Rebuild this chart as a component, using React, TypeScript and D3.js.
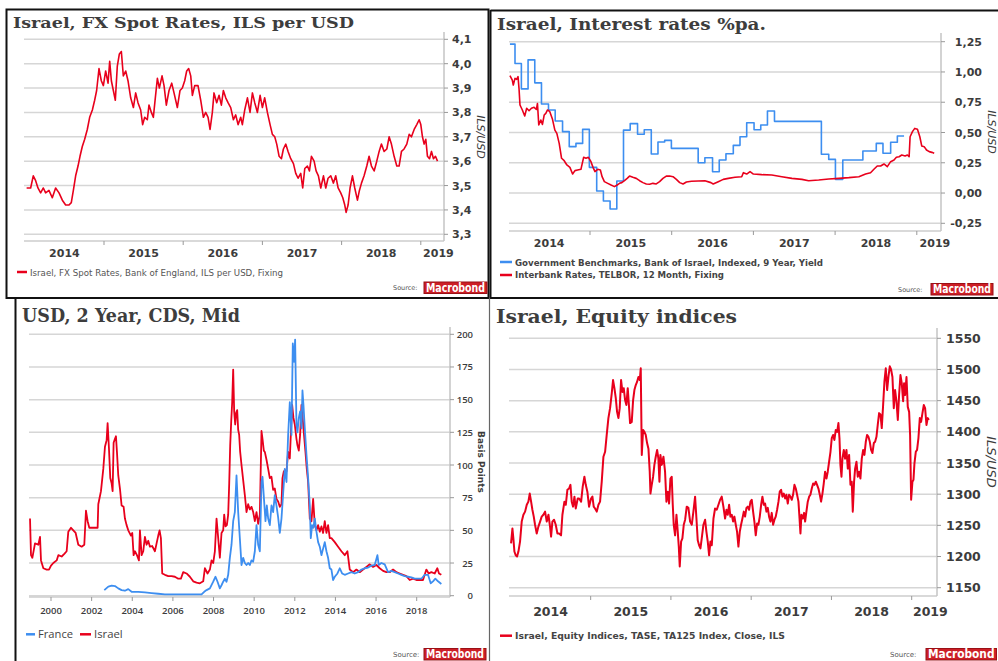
import React from "react";
import * as d3 from "d3";

type P = [number, number];

// ---------------- DATA ----------------
// Panel 1: Israel FX spot, ILS per USD  [years since 2014-01-01, value]
const fxSpot: P[] = [[0.023,3.49],[0.074,3.49],[0.107,3.54],[0.137,3.52],[0.166,3.49],[0.200,3.47],[0.234,3.49],[0.263,3.47],[0.305,3.48],[0.347,3.45],[0.389,3.49],[0.432,3.47],[0.474,3.44],[0.516,3.42],[0.558,3.42],[0.587,3.43],[0.613,3.48],[0.642,3.54],[0.672,3.58],[0.697,3.62],[0.726,3.66],[0.756,3.69],[0.789,3.73],[0.819,3.78],[0.853,3.81],[0.882,3.85],[0.907,3.89],[0.937,3.98],[0.966,3.93],[0.992,3.91],[1.021,3.97],[1.051,3.92],[1.072,4.01],[1.093,3.93],[1.118,3.89],[1.143,3.85],[1.168,3.99],[1.194,4.04],[1.219,4.05],[1.244,3.95],[1.274,3.97],[1.303,3.93],[1.337,3.86],[1.371,3.82],[1.400,3.88],[1.429,3.84],[1.463,3.81],[1.488,3.75],[1.514,3.78],[1.547,3.77],[1.568,3.83],[1.598,3.80],[1.623,3.78],[1.648,3.86],[1.674,3.94],[1.699,3.90],[1.733,3.95],[1.758,3.91],[1.787,3.83],[1.821,3.89],[1.855,3.92],[1.884,3.88],[1.926,3.82],[1.960,3.89],[1.989,3.90],[2.019,3.93],[2.044,3.97],[2.069,3.98],[2.095,3.95],[2.116,3.87],[2.145,3.91],[2.187,3.91],[2.221,3.85],[2.255,3.78],[2.284,3.80],[2.314,3.78],[2.339,3.73],[2.368,3.80],[2.389,3.88],[2.423,3.84],[2.453,3.87],[2.482,3.83],[2.507,3.89],[2.537,3.86],[2.566,3.84],[2.600,3.82],[2.634,3.77],[2.663,3.79],[2.693,3.75],[2.726,3.78],[2.747,3.75],[2.777,3.81],[2.811,3.86],[2.844,3.80],[2.874,3.88],[2.903,3.84],[2.937,3.80],[2.971,3.87],[3.000,3.82],[3.029,3.86],[3.063,3.80],[3.097,3.75],[3.126,3.71],[3.156,3.70],[3.181,3.67],[3.211,3.62],[3.240,3.61],[3.265,3.65],[3.295,3.67],[3.324,3.64],[3.358,3.61],[3.392,3.59],[3.421,3.55],[3.451,3.53],[3.484,3.55],[3.509,3.49],[3.535,3.57],[3.568,3.58],[3.594,3.56],[3.619,3.62],[3.653,3.60],[3.678,3.56],[3.707,3.54],[3.737,3.49],[3.771,3.54],[3.800,3.49],[3.829,3.53],[3.863,3.54],[3.897,3.51],[3.926,3.54],[3.956,3.49],[3.989,3.47],[4.015,3.45],[4.040,3.42],[4.057,3.39],[4.082,3.42],[4.107,3.49],[4.137,3.54],[4.166,3.49],[4.200,3.44],[4.225,3.48],[4.251,3.51],[4.284,3.54],[4.318,3.58],[4.347,3.62],[4.377,3.58],[4.411,3.56],[4.444,3.60],[4.474,3.64],[4.503,3.67],[4.537,3.64],[4.571,3.65],[4.600,3.70],[4.629,3.67],[4.663,3.62],[4.697,3.58],[4.726,3.58],[4.756,3.64],[4.789,3.65],[4.823,3.67],[4.853,3.71],[4.882,3.70],[4.916,3.73],[4.949,3.75],[4.979,3.77],[5.000,3.75],[5.021,3.70],[5.042,3.67],[5.063,3.69],[5.084,3.62],[5.110,3.61],[5.135,3.64],[5.160,3.61],[5.185,3.62],[5.211,3.60]];

// Panel 2: Government benchmark 9Y indexed (step) and TELBOR 12M  [years since 2014-01-01, %]
const govBench: P[] = [[0.020,1.23],[0.082,1.07],[0.160,0.86],[0.242,1.10],[0.324,0.91],[0.406,0.735],[0.492,0.686],[0.574,0.595],[0.664,0.507],[0.746,0.383],[0.828,0.41],[0.910,0.526],[0.992,0.212],[1.082,0.017],[1.164,-0.066],[1.246,-0.132],[1.328,0.10],[1.410,0.52],[1.492,0.573],[1.582,0.485],[1.664,0.523],[1.750,0.322],[1.832,0.421],[1.914,0.435],[1.996,0.369],[2.324,0.25],[2.406,0.292],[2.500,0.176],[2.582,0.273],[2.664,0.325],[2.754,0.394],[2.836,0.465],[2.918,0.581],[3.008,0.523],[3.090,0.562],[3.172,0.677],[3.258,0.592],[3.832,0.32],[3.922,0.278],[4.004,0.113],[4.094,0.273],[4.340,0.347],[4.504,0.41],[4.586,0.328],[4.680,0.419],[4.762,0.471],[4.844,0.471]];
const telbor: P[] = [[0.020,0.969],[0.049,0.933],[0.061,0.892],[0.082,0.947],[0.102,0.939],[0.119,0.961],[0.131,0.865],[0.143,0.727],[0.172,0.686],[0.201,0.636],[0.225,0.70],[0.254,0.68],[0.283,0.70],[0.316,0.708],[0.344,0.69],[0.357,0.74],[0.373,0.562],[0.398,0.603],[0.418,0.567],[0.439,0.644],[0.459,0.658],[0.480,0.686],[0.508,0.672],[0.541,0.609],[0.570,0.52],[0.594,0.493],[0.623,0.41],[0.652,0.287],[0.684,0.267],[0.717,0.232],[0.754,0.212],[0.787,0.157],[0.816,0.185],[0.848,0.19],[0.889,0.196],[0.922,0.295],[0.951,0.287],[0.980,0.295],[1.012,0.259],[1.037,0.212],[1.061,0.177],[1.094,0.196],[1.127,0.19],[1.148,0.135],[1.176,0.094],[1.217,0.08],[1.258,0.066],[1.299,0.053],[1.332,0.066],[1.361,0.08],[1.389,0.086],[1.422,0.102],[1.455,0.121],[1.484,0.14],[1.525,0.13],[1.566,0.121],[1.607,0.102],[1.648,0.086],[1.689,0.075],[1.730,0.072],[1.770,0.08],[1.811,0.075],[1.852,0.094],[1.893,0.121],[1.934,0.14],[1.975,0.14],[2.016,0.135],[2.057,0.113],[2.098,0.086],[2.139,0.075],[2.180,0.091],[2.242,0.097],[2.324,0.10],[2.406,0.102],[2.480,0.086],[2.508,0.075],[2.570,0.094],[2.631,0.113],[2.693,0.121],[2.775,0.13],[2.857,0.135],[2.877,0.168],[2.918,0.157],[2.959,0.177],[3.000,0.157],[3.102,0.152],[3.225,0.149],[3.348,0.135],[3.471,0.121],[3.594,0.113],[3.676,0.102],[3.799,0.108],[3.922,0.116],[4.045,0.121],[4.168,0.127],[4.291,0.135],[4.373,0.157],[4.434,0.168],[4.475,0.196],[4.516,0.223],[4.557,0.223],[4.598,0.24],[4.639,0.218],[4.680,0.259],[4.721,0.273],[4.750,0.295],[4.783,0.30],[4.816,0.314],[4.857,0.306],[4.885,0.314],[4.906,0.30],[4.918,0.465],[4.947,0.507],[4.975,0.534],[5.008,0.526],[5.037,0.465],[5.061,0.388],[5.090,0.383],[5.119,0.355],[5.152,0.342],[5.184,0.336],[5.213,0.328]];

// Panel 3: USD 2Y CDS mid, basis points  [years since 2000-01-01, bp]
const cdsIsrael: P[] = [[-1.033,59],[-0.984,31],[-0.918,29],[-0.787,40],[-0.623,39],[-0.541,45],[-0.492,27],[-0.377,21],[-0.213,20],[-0.098,20],[0,23],[0.115,25],[0.279,27],[0.361,31],[0.525,30],[0.656,32],[0.770,34],[0.852,49],[0.984,52],[1.098,50],[1.213,48],[1.344,39],[1.508,37.5],[1.639,39],[1.721,65],[1.803,57],[1.885,52],[2.000,52],[2.164,52],[2.295,52],[2.328,70],[2.459,80],[2.574,97],[2.656,114],[2.738,119],[2.787,132],[2.852,113],[2.918,90],[2.984,86],[3.033,80],[3.082,117],[3.148,120],[3.197,122],[3.246,110],[3.311,92],[3.393,82],[3.475,69],[3.574,68],[3.639,59],[3.721,54],[3.803,50],[3.934,46],[4.000,48],[4.066,31],[4.131,34],[4.230,31],[4.328,27],[4.377,50],[4.459,31],[4.541,34],[4.623,45],[4.705,39],[4.787,42],[4.869,37.5],[4.984,38],[5.115,34],[5.197,40],[5.279,46],[5.344,50],[5.410,44],[5.475,17],[5.607,16],[5.770,15],[5.934,15],[6.098,14.5],[6.262,13],[6.393,13],[6.508,18],[6.672,17],[6.836,14.5],[7.000,11],[7.164,10],[7.328,9.5],[7.492,11],[7.574,21],[7.705,17],[7.820,20],[7.902,27],[7.984,25],[8.066,34],[8.148,59],[8.230,44],[8.311,29],[8.393,48],[8.475,50],[8.525,62],[8.590,53],[8.656,54],[8.721,62],[8.770,85],[8.820,115],[8.869,133],[8.918,148],[8.967,173],[9.016,141],[9.066,131],[9.115,140],[9.164,142],[9.213,127],[9.262,123],[9.311,110],[9.377,100],[9.459,88.5],[9.541,77],[9.623,64],[9.705,70],[9.787,66],[9.869,68],[9.951,64],[10.033,57],[10.115,64],[10.197,55],[10.279,62],[10.361,126],[10.410,120],[10.475,111],[10.525,110],[10.607,104],[10.689,97],[10.770,90],[10.852,91],[10.934,81],[11.016,82],[11.098,74],[11.180,72],[11.262,68],[11.344,70],[11.393,90],[11.459,95],[11.508,96],[11.590,95],[11.672,110],[11.754,105],[11.803,123],[11.869,146],[11.934,136],[12.000,131],[12.082,120],[12.131,115],[12.197,111],[12.262,123],[12.328,146],[12.377,138],[12.443,125],[12.525,110],[12.590,97],[12.656,87],[12.738,59],[12.820,57],[12.902,74],[12.984,54],[13.066,50],[13.148,54],[13.230,49],[13.311,53],[13.393,48],[13.475,57],[13.557,48],[13.639,54],[13.721,44],[13.803,44],[13.967,41],[14.131,37.5],[14.295,34],[14.459,31],[14.590,34],[14.705,20],[14.869,18],[15.033,20],[15.197,18],[15.361,20],[15.525,22],[15.689,24],[15.852,22],[16.016,23.5],[16.180,21],[16.344,19],[16.508,18],[16.672,18],[16.836,20],[17.000,18],[17.164,17],[17.328,16],[17.492,15],[17.656,12],[17.820,13],[17.984,12],[18.148,12],[18.311,12],[18.475,20],[18.590,17],[18.721,18],[18.885,17],[19.016,21],[19.098,17],[19.213,16]];
const cdsFrance: P[] = [[2.623,4.3],[2.820,7],[2.984,7.7],[3.148,7.4],[3.311,5.6],[3.475,4.3],[3.639,3.8],[3.803,5],[3.967,3],[4.295,3],[4.623,2.5],[4.951,2],[5.279,1.5],[5.607,1],[5.934,1],[6.590,1],[7.410,1],[7.541,3],[7.656,4.3],[7.820,5.6],[7.984,10.7],[8.098,14.5],[8.197,10.7],[8.311,5.6],[8.393,8],[8.475,10.7],[8.557,13],[8.639,10.7],[8.721,16],[8.803,29],[8.885,39],[8.967,57],[9.049,64],[9.131,92],[9.213,64],[9.295,44],[9.377,23.5],[9.459,29],[9.541,25],[9.623,23.5],[9.705,25],[9.787,23.5],[9.869,27],[9.951,26],[10.033,34],[10.115,54],[10.197,39],[10.279,34],[10.361,87],[10.410,91],[10.492,72],[10.557,57],[10.623,69],[10.689,59],[10.770,54],[10.852,69],[10.934,64],[11.016,77],[11.098,69],[11.180,60],[11.262,48],[11.344,59],[11.426,78],[11.508,97],[11.590,87],[11.672,123],[11.754,148],[11.836,123],[11.902,193],[11.967,179],[12.016,196],[12.082,131],[12.131,125],[12.197,136],[12.262,141],[12.328,128],[12.377,157],[12.426,146],[12.492,128],[12.574,108],[12.656,90],[12.738,69],[12.787,44],[12.852,54],[12.918,52],[12.984,59],[13.066,49],[13.148,41],[13.230,37.5],[13.311,31],[13.393,36],[13.475,41],[13.557,34],[13.639,29],[13.721,21],[13.803,20],[13.885,12],[13.967,14.5],[14.098,17],[14.213,21],[14.328,17],[14.459,16],[14.623,17],[14.787,18],[14.951,17],[15.115,18],[15.279,20],[15.443,21],[15.607,21.5],[15.770,23],[15.934,23.5],[16.066,31],[16.131,23.5],[16.262,25],[16.426,24],[16.590,18],[16.754,19],[16.918,18],[17.082,17],[17.246,16],[17.410,15],[17.574,14.5],[17.738,14],[17.902,13],[18.066,13],[18.230,13],[18.393,16],[18.557,16],[18.689,9.5],[18.803,11],[18.918,13],[19.049,11],[19.213,9]];

// Panel 4: TASE TA125 index close  [years since 2014-01-01, index]
const ta125: P[] = [[0.008,1221],[0.025,1245],[0.037,1229],[0.050,1208],[0.066,1202],[0.083,1200],[0.100,1208],[0.120,1224],[0.141,1256],[0.162,1267],[0.183,1272],[0.204,1283],[0.224,1288],[0.241,1301],[0.258,1288],[0.274,1275],[0.291,1264],[0.307,1251],[0.328,1237],[0.349,1248],[0.370,1256],[0.390,1264],[0.411,1267],[0.432,1272],[0.453,1256],[0.474,1267],[0.494,1248],[0.507,1232],[0.523,1256],[0.544,1259],[0.565,1251],[0.586,1237],[0.606,1237],[0.631,1234],[0.648,1267],[0.673,1288],[0.690,1283],[0.710,1307],[0.731,1309],[0.748,1315],[0.764,1288],[0.781,1280],[0.798,1296],[0.814,1277],[0.839,1293],[0.856,1293],[0.881,1288],[0.901,1312],[0.922,1328],[0.939,1315],[0.959,1304],[0.980,1280],[1.005,1293],[1.022,1296],[1.038,1280],[1.055,1277],[1.076,1272],[1.097,1283],[1.117,1288],[1.138,1320],[1.159,1360],[1.180,1368],[1.200,1395],[1.221,1422],[1.242,1438],[1.263,1462],[1.279,1483],[1.296,1470],[1.313,1454],[1.329,1432],[1.346,1422],[1.362,1438],[1.379,1483],[1.396,1464],[1.412,1470],[1.429,1451],[1.445,1443],[1.462,1470],[1.479,1438],[1.491,1414],[1.512,1416],[1.529,1451],[1.545,1467],[1.562,1475],[1.578,1480],[1.595,1488],[1.612,1483],[1.624,1502],[1.637,1363],[1.653,1403],[1.670,1400],[1.686,1395],[1.703,1382],[1.720,1373],[1.736,1336],[1.745,1301],[1.761,1315],[1.778,1328],[1.794,1347],[1.811,1360],[1.828,1371],[1.844,1357],[1.857,1320],[1.869,1363],[1.886,1347],[1.907,1360],[1.927,1336],[1.944,1288],[1.961,1304],[1.977,1285],[1.994,1325],[2.010,1328],[2.023,1283],[2.035,1251],[2.052,1234],[2.069,1267],[2.085,1240],[2.098,1216],[2.110,1184],[2.127,1224],[2.143,1229],[2.160,1251],[2.177,1259],[2.197,1280],[2.218,1278],[2.239,1256],[2.260,1251],[2.280,1272],[2.301,1296],[2.318,1261],[2.334,1226],[2.351,1218],[2.368,1213],[2.384,1229],[2.405,1251],[2.426,1259],[2.442,1240],[2.459,1224],[2.476,1202],[2.492,1224],[2.509,1218],[2.530,1261],[2.550,1277],[2.571,1275],[2.592,1283],[2.613,1291],[2.633,1296],[2.654,1280],[2.675,1261],[2.692,1275],[2.708,1267],[2.725,1283],[2.741,1264],[2.758,1267],[2.775,1256],[2.791,1264],[2.808,1251],[2.824,1240],[2.841,1216],[2.858,1240],[2.874,1251],[2.891,1261],[2.908,1272],[2.924,1264],[2.941,1278],[2.957,1280],[2.974,1275],[2.991,1288],[3.007,1291],[3.024,1272],[3.040,1256],[3.057,1234],[3.074,1253],[3.090,1251],[3.107,1264],[3.124,1283],[3.140,1296],[3.157,1283],[3.173,1285],[3.190,1272],[3.207,1278],[3.223,1264],[3.240,1256],[3.256,1270],[3.273,1251],[3.290,1259],[3.306,1264],[3.323,1275],[3.340,1288],[3.356,1304],[3.373,1307],[3.389,1296],[3.406,1301],[3.423,1293],[3.439,1299],[3.456,1285],[3.472,1299],[3.489,1296],[3.506,1291],[3.522,1299],[3.539,1315],[3.556,1309],[3.572,1299],[3.589,1288],[3.601,1264],[3.614,1237],[3.626,1267],[3.643,1261],[3.659,1270],[3.672,1256],[3.688,1272],[3.705,1288],[3.722,1296],[3.738,1299],[3.755,1309],[3.772,1317],[3.788,1315],[3.805,1320],[3.821,1315],[3.838,1309],[3.855,1299],[3.871,1288],[3.888,1301],[3.904,1317],[3.921,1336],[3.938,1325],[3.954,1336],[3.971,1352],[3.988,1368],[4.004,1390],[4.021,1395],[4.037,1387],[4.054,1403],[4.071,1400],[4.087,1414],[4.100,1390],[4.112,1347],[4.125,1328],[4.137,1357],[4.154,1371],[4.170,1357],[4.187,1371],[4.204,1341],[4.220,1363],[4.237,1315],[4.253,1320],[4.266,1272],[4.282,1320],[4.295,1341],[4.312,1352],[4.328,1328],[4.345,1336],[4.361,1325],[4.378,1357],[4.395,1371],[4.411,1363],[4.428,1384],[4.444,1395],[4.461,1392],[4.478,1384],[4.494,1371],[4.511,1366],[4.528,1382],[4.544,1384],[4.561,1392],[4.577,1411],[4.594,1430],[4.611,1428],[4.627,1406],[4.644,1443],[4.660,1480],[4.677,1502],[4.694,1467],[4.710,1488],[4.727,1505],[4.743,1500],[4.760,1488],[4.777,1438],[4.793,1467],[4.810,1449],[4.827,1419],[4.843,1459],[4.860,1491],[4.876,1478],[4.893,1449],[4.905,1478],[4.918,1459],[4.935,1488],[4.951,1440],[4.968,1432],[4.980,1395],[4.993,1291],[5.009,1320],[5.022,1323],[5.034,1349],[5.051,1368],[5.067,1371],[5.084,1390],[5.101,1422],[5.117,1416],[5.134,1430],[5.151,1443],[5.167,1438],[5.184,1411],[5.200,1422],[5.213,1419]];

const fxTicks = [3.3, 3.4, 3.5, 3.6, 3.7, 3.8, 3.9, 4.0, 4.1];
const rateTicks = [-0.25, 0, 0.25, 0.5, 0.75, 1.0, 1.25];
const cdsTicks = [0, 25, 50, 75, 100, 125, 150, 175, 200];
const eqTicks = [1150, 1200, 1250, 1300, 1350, 1400, 1450, 1500, 1550];
const years = [2014, 2015, 2016, 2017, 2018, 2019];
const cdsYears = [2000, 2002, 2004, 2006, 2008, 2010, 2012, 2014, 2016, 2018];

// ---------------- STYLE ----------------
const RED = "#e8001c";
const BLUE = "#3d8ef0";
const SANS = "'DejaVu Sans', Verdana, sans-serif";
const SERIF = "'DejaVu Serif', Georgia, serif";
const OPEN = "'Open Sans', 'Noto Sans', sans-serif";
const TXT = "#3c3c3c";

type Scale = d3.ScaleLinear<number, number>;
interface Series { data: P[]; base: number; color: string; width: number; step?: boolean }
interface Cfg {
  x: Scale; y: Scale; left: number; right: number; top: number; bottom: number;
  yTicks: number[]; fmt: (v: number) => string;
  yLabelX: number; yAnchor: "start" | "end"; yFont: number; yWeight: number; yFamily: string; yDy: number;
  xLabels: { text: string; x: number }[]; xLabelY: number; xFont: number; xWeight: number; xFamily: string;
  xTickPos: number[]; series: Series[];
}

const comma = (f: string) => (v: number) => d3.format(f)(v).replace(".", ",").replace("−", "-");

function yearLabels(x: Scale, right: number) {
  return years.map((yr) => {
    const a = x(yr);
    const bFull = x(yr + 1);
    const b = Math.min(bFull, right);
    return { text: String(yr), x: (a + b) / 2 + (bFull > right ? 6 : 0) };
  });
}

function Plot({ c }: { c: Cfg }) {
  return (
    <g>
      {c.yTicks.map((v) => (
        <line key={"g" + v} x1={c.left} x2={c.right} y1={c.y(v)} y2={c.y(v)} stroke="#d6d6d6" strokeWidth={1.5} />
      ))}
      <line x1={c.left} x2={c.right} y1={c.bottom} y2={c.bottom} stroke="#cdcdcd" strokeWidth={1.5} />
      <line x1={c.right} x2={c.right} y1={c.top} y2={c.bottom} stroke="#c4c4c4" strokeWidth={1.5} />
      {c.yTicks.map((v) => (
        <line key={"t" + v} x1={c.right} x2={c.right + 4} y1={c.y(v)} y2={c.y(v)} stroke="#999" strokeWidth={1} />
      ))}
      {c.xTickPos.map((px, i) => (
        <line key={"xt" + i} x1={px} x2={px} y1={c.bottom} y2={c.bottom + 4} stroke="#999" strokeWidth={1} />
      ))}
      {c.yTicks.map((v) => (
        <text key={"yl" + v} x={c.yLabelX} y={c.y(v) + c.yDy} textAnchor={c.yAnchor} fontFamily={c.yFamily}
          fontSize={c.yFont} fontWeight={c.yWeight} fill={TXT}>{c.fmt(v)}</text>
      ))}
      {c.xLabels.map((l) => (
        <text key={"xl" + l.text} x={l.x} y={c.xLabelY} textAnchor="middle" fontFamily={c.xFamily}
          fontSize={c.xFont} fontWeight={c.xWeight} fill={TXT}>{l.text}</text>
      ))}
      {c.series.map((s, i) => {
        const gen = d3.line<P>().x((d) => c.x(s.base + d[0])).y((d) => c.y(d[1]));
        if (s.step) gen.curve(d3.curveStepAfter);
        return <path key={"s" + i} d={gen(s.data) || ""} fill="none" stroke={s.color} strokeWidth={s.width}
          strokeLinejoin="round" strokeLinecap="butt" />;
      })}
    </g>
  );
}

function Logo({ x, y, w, h, sx, sy, fs }: { x: number; y: number; w: number; h: number; sx: number; sy: number; fs: number }) {
  return (
    <g>
      <text x={sx} y={sy} fontFamily={SANS} fontSize={fs} fill="#555">Source:</text>
      <rect x={x} y={y} width={w} height={h} fill="#cc1f26" stroke="#9a1016" strokeWidth={1} />
      <text x={x + 2} y={y + h - 1.8} fontFamily="'DejaVu Sans Condensed', 'Liberation Sans Narrow', sans-serif"
        fontWeight="bold" fontSize={h} fill="#fff" textLength={w - 4} lengthAdjust="spacingAndGlyphs">Macrobond</text>
    </g>
  );
}

function Rotated({ x, y, text, size, italic, weight }: { x: number; y: number; text: string; size: number; italic?: boolean; weight?: number }) {
  return (
    <text x={0} y={0} transform={`translate(${x},${y}) rotate(90)`} textAnchor="middle" dominantBaseline="middle"
      fontFamily={SANS} fontSize={size} fontStyle={italic ? "italic" : "normal"} fontWeight={weight || 400} fill={TXT}>{text}</text>
  );
}

export default function App() {
  // Panel 1
  const x1 = d3.scaleLinear().domain([2014, 2019]).range([24.8, 420.8]);
  const y1 = d3.scaleLinear().domain([3.3, 4.1]).range([234.3, 39.3]);
  const c1: Cfg = {
    x: x1, y: y1, left: 24, right: 444, top: 32, bottom: 241, yTicks: fxTicks, fmt: comma(".1f"),
    yLabelX: 452, yAnchor: "start", yFont: 11, yWeight: 700, yFamily: SANS, yDy: 4,
    xLabels: yearLabels(x1, 444), xLabelY: 257, xFont: 11, xWeight: 700, xFamily: SANS,
    xTickPos: years.slice(1).map((y) => x1(y)),
    series: [{ data: fxSpot, base: 2014, color: RED, width: 1.6 }],
  };
  // Panel 2
  const x2 = d3.scaleLinear().domain([2014, 2019]).range([508.3, 916.8]);
  const y2 = d3.scaleLinear().domain([-0.25, 1.25]).range([223.3, 41.7]);
  const c2: Cfg = {
    x: x2, y: y2, left: 509, right: 941, top: 33, bottom: 231, yTicks: rateTicks, fmt: comma(".2f"),
    yLabelX: 982, yAnchor: "end", yFont: 11, yWeight: 700, yFamily: SANS, yDy: 4,
    xLabels: yearLabels(x2, 941), xLabelY: 247, xFont: 11, xWeight: 700, xFamily: SANS,
    xTickPos: years.slice(1).map((y) => x2(y)),
    series: [
      { data: govBench, base: 2014, color: BLUE, width: 1.6, step: true },
      { data: telbor, base: 2014, color: RED, width: 1.6 },
    ],
  };
  // Panel 3
  const x3 = d3.scaleLinear().domain([2000, 2018]).range([51, 416.7]);
  const y3 = d3.scaleLinear().domain([0, 200]).range([595.7, 334.3]);
  const c3: Cfg = {
    x: x3, y: y3, left: 29, right: 450, top: 327, bottom: 597, yTicks: cdsTicks, fmt: d3.format("d"),
    yLabelX: 473, yAnchor: "end", yFont: 9.5, yWeight: 600, yFamily: OPEN, yDy: 3.5,
    xLabels: cdsYears.map((y) => ({ text: String(y), x: x3(y) })), xLabelY: 614, xFont: 9.5, xWeight: 600, xFamily: OPEN,
    xTickPos: cdsYears.map((y) => x3(y)),
    series: [
      { data: cdsIsrael, base: 2000, color: RED, width: 1.8 },
      { data: cdsFrance, base: 2000, color: BLUE, width: 1.8 },
    ],
  };
  // Panel 4
  const x4 = d3.scaleLinear().domain([2014, 2019]).range([510.4, 911.7]);
  const y4 = d3.scaleLinear().domain([1150, 1550]).range([587.7, 338.3]);
  const c4: Cfg = {
    x: x4, y: y4, left: 509, right: 937, top: 328, bottom: 596, yTicks: eqTicks, fmt: d3.format("d"),
    yLabelX: 946, yAnchor: "start", yFont: 12.5, yWeight: 700, yFamily: SANS, yDy: 4.5,
    xLabels: yearLabels(x4, 937), xLabelY: 615.5, xFont: 12.5, xWeight: 700, xFamily: SANS,
    xTickPos: years.slice(1).map((y) => x4(y)),
    series: [{ data: ta125, base: 2014, color: RED, width: 2 }],
  };

  return (
    <svg width={998} height={661} viewBox="0 0 998 661"
      style={{ position: "absolute", left: 0, top: 0, background: "#fff", display: "block" }}>
      <rect x={0} y={0} width={998} height={661} fill="#fff" />
      {/* frames */}
      <rect x={6.5} y={9.5} width={482} height={288.5} fill="none" stroke="#111" strokeWidth={2} />
      <line x1={490.5} x2={998} y1={10.5} y2={10.5} stroke="#111" strokeWidth={2} />
      <line x1={490.5} x2={490.5} y1={10} y2={298} stroke="#111" strokeWidth={2} />
      <line x1={490} x2={998} y1={298} y2={298} stroke="#111" strokeWidth={2} />
      <line x1={15.5} x2={15.5} y1={298} y2={661} stroke="#111" strokeWidth={2} />
      <line x1={489.5} x2={489.5} y1={298} y2={661} stroke="#666" strokeWidth={1.2} />

      {/* Panel 1 */}
      <text x={13} y={28} fontFamily={SERIF} fontWeight="bold" fontSize={15} fill="#3d3d3d" textLength={341} lengthAdjust="spacingAndGlyphs">Israel, FX Spot Rates, ILS per USD</text>
      <Plot c={c1} />
      <Rotated x={479.5} y={137} text="ILS/USD" size={11} italic />
      <line x1={17} x2={27} y1={272} y2={272} stroke={RED} strokeWidth={2.5} />
      <text x={30} y={275.5} fontFamily={SANS} fontSize={8} fill="#555" textLength={253} lengthAdjust="spacingAndGlyphs">Israel, FX Spot Rates, Bank of England, ILS per USD, Fixing</text>
      <Logo x={424} y={282} w={63} h={11.5} sx={393} sy={290} fs={6.5} />

      {/* Panel 2 */}
      <text x={497} y={30} fontFamily={SERIF} fontWeight="bold" fontSize={16} fill="#3d3d3d" textLength={269} lengthAdjust="spacingAndGlyphs">Israel, Interest rates %pa.</text>
      <Plot c={c2} />
      <Rotated x={991} y={132} text="ILS/USD" size={11} italic />
      <line x1={500} x2={512} y1={262} y2={262} stroke={BLUE} strokeWidth={2.5} />
      <text x={515} y={265.5} fontFamily={SANS} fontWeight="bold" fontSize={8} fill="#444" textLength={308} lengthAdjust="spacingAndGlyphs">Government Benchmarks, Bank of Israel, Indexed, 9 Year, Yield</text>
      <line x1={500} x2={512} y1={275} y2={275} stroke={RED} strokeWidth={2.5} />
      <text x={515} y={278.3} fontFamily={SANS} fontWeight="bold" fontSize={8} fill="#444" textLength={209} lengthAdjust="spacingAndGlyphs">Interbank Rates, TELBOR, 12 Month, Fixing</text>
      <Logo x={931} y={283.5} w={62} h={11.5} sx={898} sy={292} fs={6.5} />

      {/* Panel 3 */}
      <text x={22} y={322} fontFamily={SERIF} fontWeight="bold" fontSize={18} fill="#3d3d3d" textLength={218} lengthAdjust="spacingAndGlyphs">USD, 2 Year, CDS, Mid</text>
      <Plot c={c3} />
      <Rotated x={480} y={462} text="Basis Points" size={9} weight={700} />
      <line x1={26} x2={35} y1={634.3} y2={634.3} stroke={BLUE} strokeWidth={2.5} />
      <text x={38} y={638.3} fontFamily={OPEN} fontSize={11} fill="#444" textLength={35} lengthAdjust="spacingAndGlyphs">France</text>
      <line x1={80} x2={91} y1={634.3} y2={634.3} stroke={RED} strokeWidth={2.5} />
      <text x={94} y={638.3} fontFamily={OPEN} fontSize={11} fill="#444" textLength={28.7} lengthAdjust="spacingAndGlyphs">Israel</text>
      <Logo x={424} y={648.5} w={62} h={11.5} sx={393} sy={657} fs={7} />

      {/* Panel 4 */}
      <text x={496} y={323} fontFamily={SERIF} fontWeight="bold" fontSize={18} fill="#3d3d3d" textLength={241} lengthAdjust="spacingAndGlyphs">Israel, Equity indices</text>
      <Plot c={c4} />
      <Rotated x={990} y={462} text="ILS/USD" size={13} italic />
      <line x1={500} x2={512} y1={635.7} y2={635.7} stroke={RED} strokeWidth={2.5} />
      <text x={515} y={639} fontFamily={SANS} fontWeight="bold" fontSize={9} fill="#444" textLength={270} lengthAdjust="spacingAndGlyphs">Israel, Equity Indices, TASE, TA125 Index, Close, ILS</text>
      <Logo x={926} y={648.5} w={70.5} h={11.5} sx={890} sy={657} fs={7} />
    </svg>
  );
}
